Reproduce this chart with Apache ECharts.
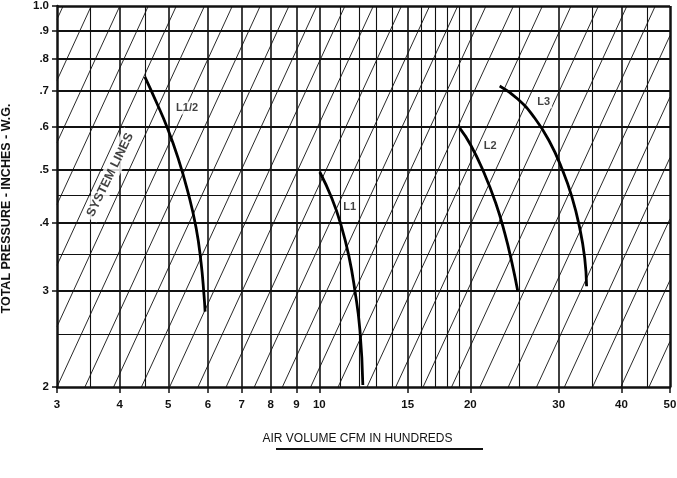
<!DOCTYPE html>
<html><head><meta charset="utf-8">
<script src="https://cdn.jsdelivr.net/npm/echarts@6/dist/echarts.min.js"></script>
<style>html,body{margin:0;padding:0;background:#fff}#c{width:677px;height:478px}</style>
</head><body><div id="c"></div>
<script>
// ---- data ----
const xTickValues = [3, 4, 5, 6, 7, 8, 9, 10, 15, 20, 30, 40, 50];
const yTickValues = [0.2, 0.3, 0.4, 0.5, 0.6, 0.7, 0.8, 0.9, 1.0];
const yTickText = ['2', '3', '.4', '.5', '.6', '.7', '.8', '.9', '1.0'];
const xGridMajor = [4, 5, 6, 7, 8, 9, 10, 15, 20, 30, 40];
const xGridMinor = [3.5, 4.5, 11, 12, 13, 14, 16, 17, 18, 19, 25, 35, 45];
const yGridMajor = [0.3, 0.4, 0.5, 0.6, 0.7, 0.8, 0.9];
const yGridMinor = [0.25, 0.35, 0.45];
// air volume (hundreds CFM) where each system line crosses 0.2 in. w.g.
const systemLineQ0 = [1.38, 1.57, 1.79, 2.04, 2.32, 2.64, 3.0, 3.41, 3.89, 4.42, 5.03, 5.73, 6.52, 7.42,
  8.44, 9.61, 10.9, 12.45, 14.2, 16.1, 18.35, 20.9, 23.8, 27.1, 30.8, 35.05, 39.9, 45.4];
const curveNames = ['L1/2', 'L1', 'L2', 'L3'];
const curveLHalf = [[4.49, 0.741], [4.72, 0.670], [4.97, 0.600], [5.23, 0.526], [5.47, 0.456], [5.68, 0.392], [5.81, 0.339], [5.89, 0.295], [5.92, 0.275]];
const curveL1 = [[10.02, 0.496], [10.59, 0.444], [11.04, 0.397], [11.45, 0.348], [11.77, 0.301], [12.05, 0.254], [12.21, 0.2017]];
const curveL2 = [[19.05, 0.597], [20.03, 0.556], [21.26, 0.496], [22.47, 0.435], [23.42, 0.383], [24.19, 0.339], [24.86, 0.300]];
const curveL3 = [[22.88, 0.713], [24.86, 0.675], [26.87, 0.623], [28.79, 0.563], [30.42, 0.504], [31.84, 0.448], [33.03, 0.392], [33.8, 0.345], [34.1, 0.306]];
const curveLabelPoints = [[5.45, 0.65], [11.5, 0.428], [21.9, 0.554], [28.0, 0.667]];
const systemLabelPoint = [3.83, 0.49];

// ---- chart ----
const INK = '#111';
const FONT = '"Liberation Sans", Arial, sans-serif';
const X_MIN = 3, X_MAX = 50, Y_MIN = 0.2, Y_MAX = 1.0;

function nearestIndex(arr, v) {
  let best = 0;
  for (let i = 1; i < arr.length; i++) if (Math.abs(arr[i] - v) < Math.abs(arr[best] - v)) best = i;
  return best;
}

const gridMarkData = []
  .concat(xGridMajor.map(v => ({ xAxis: v, lineStyle: { width: 1.6 } })))
  .concat(xGridMinor.map(v => ({ xAxis: v, lineStyle: { width: 1.1 } })))
  .concat(yGridMajor.map(v => ({ yAxis: v, lineStyle: { width: 2 } })))
  .concat(yGridMinor.map(v => ({ yAxis: v, lineStyle: { width: 1.2 } })))
  .concat([{ yAxis: Y_MAX, lineStyle: { width: 2.5 } }, { xAxis: X_MAX, lineStyle: { width: 2.5 } }]);

const systemSeries = systemLineQ0.map(q0 => {
  // system curve: pressure grows with the square of air volume
  const pAt = q => Y_MIN * Math.pow(q / q0, 2);
  const qAt = p => q0 * Math.sqrt(p / Y_MIN);
  const start = q0 >= X_MIN ? [q0, Y_MIN] : [X_MIN, pAt(X_MIN)];
  const endQ = qAt(Y_MAX);
  const end = endQ <= X_MAX ? [endQ, Y_MAX] : [X_MAX, pAt(X_MAX)];
  return {
    type: 'line', data: [start, end], showSymbol: false, symbol: 'none', silent: true,
    lineStyle: { color: INK, width: 0.9 }, z: 2, clip: true, animation: false
  };
});

const curveSeries = [curveLHalf, curveL1, curveL2, curveL3].map((d, i) => ({
  type: 'line', name: curveNames[i], data: d, smooth: 0.5, showSymbol: false, symbol: 'none',
  lineStyle: { color: '#000', width: 2.8 }, z: 5, clip: true, animation: false
}));

const option = {
  backgroundColor: '#fff',
  animation: false,
  grid: { left: 57, right: 7, top: 6, bottom: 91, containLabel: false, outerBoundsMode: 'none' },
  xAxis: {
    type: 'log', logBase: 10, min: X_MIN, max: X_MAX,
    axisLine: { show: true, onZero: false, lineStyle: { color: INK, width: 2.5 } },
    axisTick: { show: true, customValues: xTickValues, length: 6, lineStyle: { color: INK, width: 1.5 } },
    axisLabel: {
      show: true, customValues: xTickValues, margin: 12, color: INK, fontFamily: FONT,
      fontWeight: 'bold', fontSize: 11.5, formatter: v => String(Math.round(v)), hideOverlap: false
    },
    splitLine: { show: false }, minorTick: { show: false }, minorSplitLine: { show: false },
    name: 'AIR VOLUME CFM IN HUNDREDS', nameLocation: 'middle', nameGap: 46,
    nameTextStyle: { color: INK, fontFamily: FONT, fontSize: 12, padding: [0, 12, 0, 0] }
  },
  yAxis: {
    type: 'log', logBase: 10, min: Y_MIN, max: Y_MAX,
    axisLine: { show: true, onZero: false, lineStyle: { color: INK, width: 2.5 } },
    axisTick: { show: true, customValues: yTickValues, length: 5, lineStyle: { color: INK, width: 1.5 } },
    axisLabel: {
      show: true, customValues: yTickValues, margin: 8, color: INK, fontFamily: FONT,
      fontWeight: 'bold', fontSize: 11.5, formatter: v => yTickText[nearestIndex(yTickValues, v)], hideOverlap: false
    },
    splitLine: { show: false }, minorTick: { show: false }, minorSplitLine: { show: false },
    name: 'TOTAL PRESSURE - INCHES - W.G.', nameLocation: 'middle', nameRotate: 90, nameGap: 44,
    nameTextStyle: { color: INK, fontFamily: FONT, fontSize: 12.5, fontWeight: 'bold', padding: [0, 24, 0, 0] }
  },
  series: [
    {
      type: 'line', data: [], silent: true, z: 1, animation: false,
      markLine: {
        silent: true, symbol: ['none', 'none'], animation: false, label: { show: false },
        lineStyle: { color: INK, type: 'solid' }, data: gridMarkData
      }
    }
  ].concat(systemSeries).concat(curveSeries).concat([
    {
      type: 'scatter', data: curveLabelPoints.map((p, i) => ({ value: p, name: curveNames[i] })),
      symbolSize: 1, itemStyle: { color: 'rgba(0,0,0,0)' }, z: 6, silent: true, animation: false,
      label: {
        show: true, position: 'inside', formatter: '{b}', color: INK, fontFamily: FONT,
        fontWeight: 'bold', fontSize: 11, backgroundColor: '#fff', padding: [1, 2]
      }
    },
    {
      type: 'scatter', data: [{ value: systemLabelPoint, name: 'SYSTEM LINES' }],
      symbolSize: 1, itemStyle: { color: 'rgba(0,0,0,0)' }, z: 6, silent: true, animation: false,
      label: {
        show: true, position: 'inside', formatter: '{b}', rotate: 64, color: INK, fontFamily: FONT,
        fontWeight: 'bold', fontSize: 12.5, backgroundColor: '#fff', padding: [2, 3]
      }
    }
  ]),
  graphic: [
    { type: 'line', shape: { x1: 276, y1: 449, x2: 483, y2: 449 }, style: { stroke: INK, lineWidth: 2 }, silent: true }
  ]
};

const chart = echarts.init(document.getElementById('c'), null, { renderer: 'canvas' });
chart.setOption(option);
</script>
</body></html>
